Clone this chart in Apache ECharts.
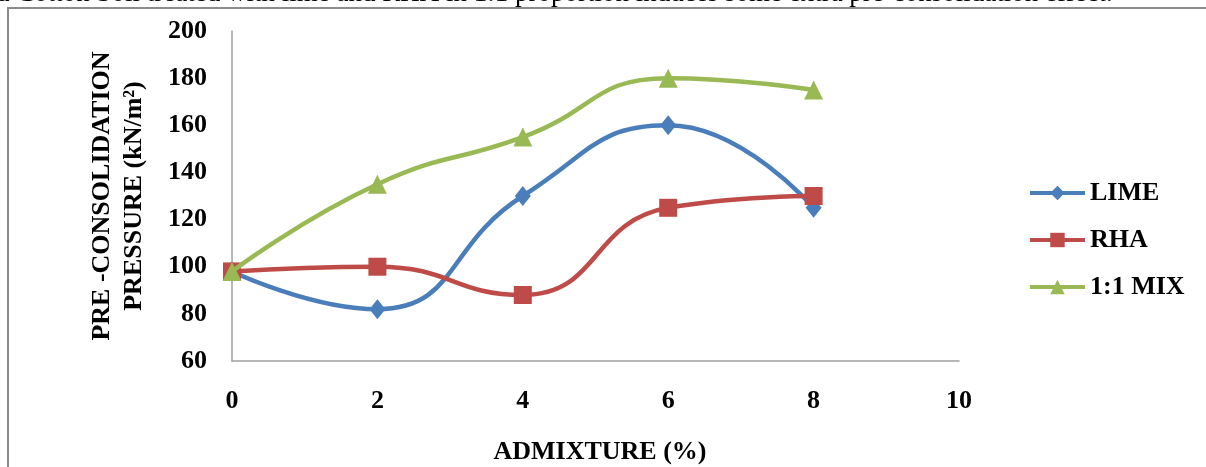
<!DOCTYPE html>
<html>
<head>
<meta charset="utf-8">
<script src="https://cdn.jsdelivr.net/npm/echarts@6/dist/echarts.min.js"></script>
<style>
  html, body { margin: 0; padding: 0; background: #fff; }
  #chart { width: 1206px; height: 467px; }
</style>
</head>
<body>
<div id="chart"></div>
<script>
// Admixture content (%) and pre-consolidation pressure (kN/m²)
const admixture = [0, 2, 4, 6, 8];
const limeValues = [98, 82, 130, 160, 125];
const rhaValues = [98, 100, 88, 125, 130];
const mixValues = [98, 135, 155, 180, 175];
const seriesNames = ['LIME', 'RHA', '1:1 MIX'];
const xTicks = [0, 2, 4, 6, 8, 10];
const yTicks = [60, 80, 100, 120, 140, 160, 180, 200];

const serif = '"Liberation Serif", "DejaVu Serif", serif';
const colors = ['#4A7EBB', '#BE4B48', '#98B954'];

function pairs(values) {
  return admixture.map((x, i) => [x, values[i]]);
}

const chart = echarts.init(document.getElementById('chart'), null, { renderer: 'canvas' });

chart.setOption({
  animation: false,
  backgroundColor: '#ffffff',
  graphic: [
    {
      type: 'rect',
      shape: { x: 8, y: 8, width: 1210, height: 470 },
      style: { fill: 'none', stroke: '#8c8c8c', lineWidth: 2 },
      silent: true
    },
    {
      type: 'text',
      x: -4,
      y: -20,
      style: {
        text: 'd Cotton Soil treated with lime and RHA in 1:1 proportion induces some extra pre-consolidation effect.',
        font: '27px ' + serif,
        fill: '#000'
      },
      silent: true
    },
    {
      type: 'text',
      x: 118,
      y: 196,
      rotation: Math.PI / 2,
      style: {
        text: 'PRE -CONSOLIDATION\nPRESSURE (kN/m²)',
        font: 'bold 26px ' + serif,
        fill: '#000',
        align: 'center',
        verticalAlign: 'middle',
        lineHeight: 32
      },
      silent: true
    },
    {
      type: 'text',
      x: 600,
      y: 452,
      style: {
        text: 'ADMIXTURE (%)',
        font: 'bold 26px ' + serif,
        fill: '#000',
        align: 'center',
        verticalAlign: 'middle'
      },
      silent: true
    }
  ],
  legend: {
    orient: 'vertical',
    left: 1023,
    top: 175,
    itemGap: 21,
    itemWidth: 55,
    itemHeight: 18,
    lineStyle: { width: 4 },
    textStyle: { fontFamily: serif, fontWeight: 'bold', fontSize: 26, color: '#000' },
    data: seriesNames
  },
  grid: { left: 232, right: 247, top: 31, bottom: 106, containLabel: false },
  xAxis: {
    type: 'value',
    min: xTicks[0],
    max: xTicks[xTicks.length - 1],
    interval: 2,
    axisLine: { show: true, lineStyle: { color: '#a0a0a0', width: 1.5 } },
    axisTick: { show: false },
    splitLine: { show: false },
    axisLabel: {
      margin: 27,
      fontFamily: serif, fontWeight: 'bold', fontSize: 26, color: '#000'
    }
  },
  yAxis: {
    type: 'value',
    min: yTicks[0],
    max: yTicks[yTicks.length - 1],
    interval: 20,
    axisLine: { show: true, lineStyle: { color: '#a0a0a0', width: 1.5 } },
    axisTick: { show: false },
    splitLine: { show: false },
    axisLabel: {
      margin: 25,
      fontFamily: serif, fontWeight: 'bold', fontSize: 26, color: '#000'
    }
  },
  series: [
    {
      name: seriesNames[0],
      type: 'line',
      data: pairs(limeValues),
      smooth: 0.5,
      symbol: 'diamond',
      symbolSize: [16, 20],
      lineStyle: { width: 4.5, color: colors[0] },
      itemStyle: { color: colors[0] },
      z: 3
    },
    {
      name: seriesNames[1],
      type: 'line',
      data: pairs(rhaValues),
      smooth: 0.5,
      symbol: 'rect',
      symbolSize: 18,
      lineStyle: { width: 4.5, color: colors[1] },
      itemStyle: { color: colors[1] },
      z: 4
    },
    {
      name: seriesNames[2],
      type: 'line',
      data: pairs(mixValues),
      smooth: 0.5,
      symbol: 'triangle',
      symbolSize: 19,
      lineStyle: { width: 4.5, color: colors[2] },
      itemStyle: { color: colors[2] },
      z: 5
    }
  ]
});
</script>
</body>
</html>
